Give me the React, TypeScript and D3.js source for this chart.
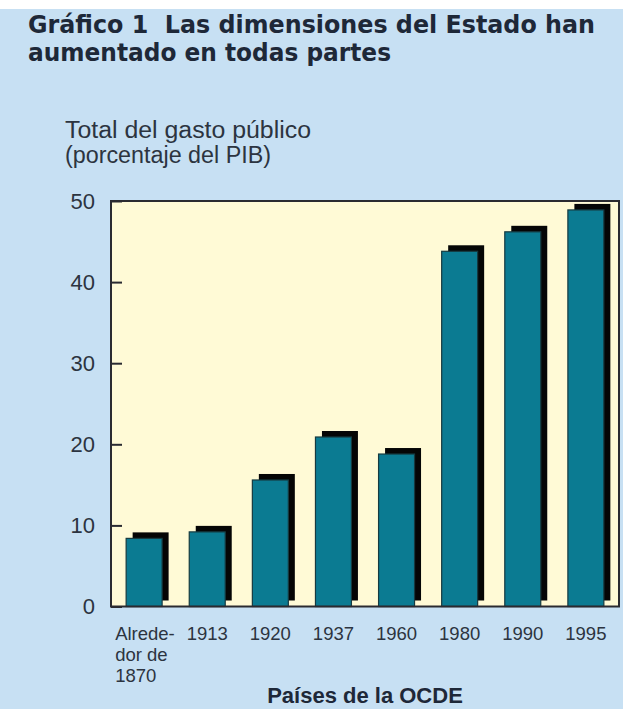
import * as d3 from 'd3';
import React, { useRef, useEffect } from 'react';

// periods on the x axis (the first one is printed on three lines)
const categories = ['1870', '1913', '1920', '1937', '1960', '1980', '1990', '1995'];
const categoryLabels = [['Alrede-', 'dor de', '1870'], ['1913'], ['1920'], ['1937'], ['1960'], ['1980'], ['1990'], ['1995']];
// total public spending, % of GDP (OECD countries)
const spending = [8.4, 9.2, 15.6, 20.9, 18.8, 43.8, 46.2, 48.9];
const yTicks = [0, 10, 20, 30, 40, 50];

const titleLines = ['Gráfico 1  Las dimensiones del Estado han', 'aumentado en todas partes'];
const titleWidths = [567, 363];
const yTitleLines = ['Total del gasto público', '(porcentaje del PIB)'];
const yTitleWidths = [246, 206];
const xTitle = 'Países de la OCDE';

const W = 623, H = 709;
const FONT = "'Liberation Sans', Arial, sans-serif";
const TITLE_FONT = "'DejaVu Sans', Verdana, sans-serif";

function Chart() {
    const ref = useRef(null);

    useEffect(() => {
        const svg = d3.select(ref.current);
        svg.selectAll('*').remove();

        const plot = { left: 111, right: 619, top: 201, bottom: 606.5 };

        const x = d3.scaleBand()
            .domain(categories)
            .range([plot.left, plot.right])
            .paddingInner(0.43)
            .paddingOuter(0.24);
        const y = d3.scaleLinear().domain([0, 50]).range([plot.bottom, plot.top]);

        // page background
        svg.append('rect').attr('width', W).attr('height', H).attr('fill', '#ffffff');
        svg.append('rect').attr('x', 0).attr('y', 9).attr('width', W).attr('height', H - 9).attr('fill', '#c7e0f3');

        // title
        svg.append('g').selectAll('text')
            .data(titleLines)
            .enter().append('text')
            .attr('x', 28)
            .attr('y', (d, i) => 33 + i * 28)
            .attr('textLength', (d, i) => titleWidths[i])
            .attr('lengthAdjust', 'spacingAndGlyphs')
            .style('white-space', 'pre')
            .attr('font-family', TITLE_FONT)
            .attr('font-weight', 'bold')
            .attr('font-size', 25)
            .attr('fill', '#1e2838')
            .text(d => d);

        // y title
        svg.append('g').selectAll('text')
            .data(yTitleLines)
            .enter().append('text')
            .attr('x', 65)
            .attr('y', (d, i) => 138 + i * 25)
            .attr('textLength', (d, i) => yTitleWidths[i])
            .attr('lengthAdjust', 'spacingAndGlyphs')
            .attr('font-family', FONT)
            .attr('font-size', 23)
            .attr('fill', '#2c3440')
            .text(d => d);

        // plot area
        svg.append('rect')
            .attr('x', plot.left).attr('y', plot.top)
            .attr('width', plot.right - plot.left).attr('height', plot.bottom - plot.top)
            .attr('fill', '#fffad6');

        const bars = svg.append('g').selectAll('g')
            .data(categories)
            .enter().append('g');

        // black drop shadow, shifted right and up
        bars.append('rect')
            .attr('x', d => x(d) + 6.5)
            .attr('y', (d, i) => y(spending[i]) - 6)
            .attr('width', x.bandwidth())
            .attr('height', (d, i) => y(0) - y(spending[i]))
            .attr('fill', '#050505');

        bars.append('rect')
            .attr('x', d => x(d))
            .attr('y', (d, i) => y(spending[i]))
            .attr('width', x.bandwidth())
            .attr('height', (d, i) => y(0) - y(spending[i]))
            .attr('fill', '#0b7b92')
            .attr('stroke', '#163a40')
            .attr('stroke-width', 1.2);

        // frame
        svg.append('rect')
            .attr('x', plot.left).attr('y', plot.top)
            .attr('width', plot.right - plot.left).attr('height', plot.bottom - plot.top)
            .attr('fill', 'none')
            .attr('stroke', '#2a2a30')
            .attr('stroke-width', 2);

        // y axis, ticks pointing inwards
        const yAxis = svg.append('g')
            .attr('transform', 'translate(' + plot.left + ',0)')
            .call(d3.axisRight(y).tickValues(yTicks).tickSize(11).tickFormat(() => ''));
        yAxis.select('.domain').remove();
        yAxis.selectAll('line').attr('stroke', '#2a2a30').attr('stroke-width', 2);

        svg.append('g').selectAll('text')
            .data(yTicks)
            .enter().append('text')
            .attr('x', 95)
            .attr('y', d => y(d))
            .attr('dy', '0.36em')
            .attr('text-anchor', 'end')
            .attr('font-family', FONT)
            .attr('font-size', 22)
            .attr('fill', '#2c3440')
            .text(d => d);

        // x labels
        const labels = svg.append('g').selectAll('text')
            .data(categories)
            .enter().append('text')
            .attr('font-family', FONT)
            .attr('font-size', 18.5)
            .attr('fill', '#2c3440')
            .attr('text-anchor', (d, i) => categoryLabels[i].length > 1 ? 'start' : 'middle');

        labels.each(function (d, i) {
            const lines = categoryLabels[i];
            const cx = lines.length > 1 ? x(d) - 11 : x(d) + x.bandwidth() / 2;
            d3.select(this).selectAll('tspan')
                .data(lines)
                .enter().append('tspan')
                .attr('x', cx)
                .attr('y', (l, j) => 640 + j * 21)
                .text(l => l);
        });

        // x title at the very bottom of the picture
        svg.append('text')
            .attr('x', (plot.left + plot.right) / 2)
            .attr('y', 703)
            .attr('text-anchor', 'middle')
            .attr('font-family', FONT)
            .attr('font-weight', 'bold')
            .attr('font-size', 22)
            .attr('fill', '#1e2838')
            .text(xTitle);
    }, []);

    return <svg ref={ref} width={W} height={H} style={{ display: 'block' }}></svg>;
}

export default function App() {
    return (
        <div style={{ position: 'absolute', left: 0, top: 0 }}>
            <Chart />
        </div>
    );
}
